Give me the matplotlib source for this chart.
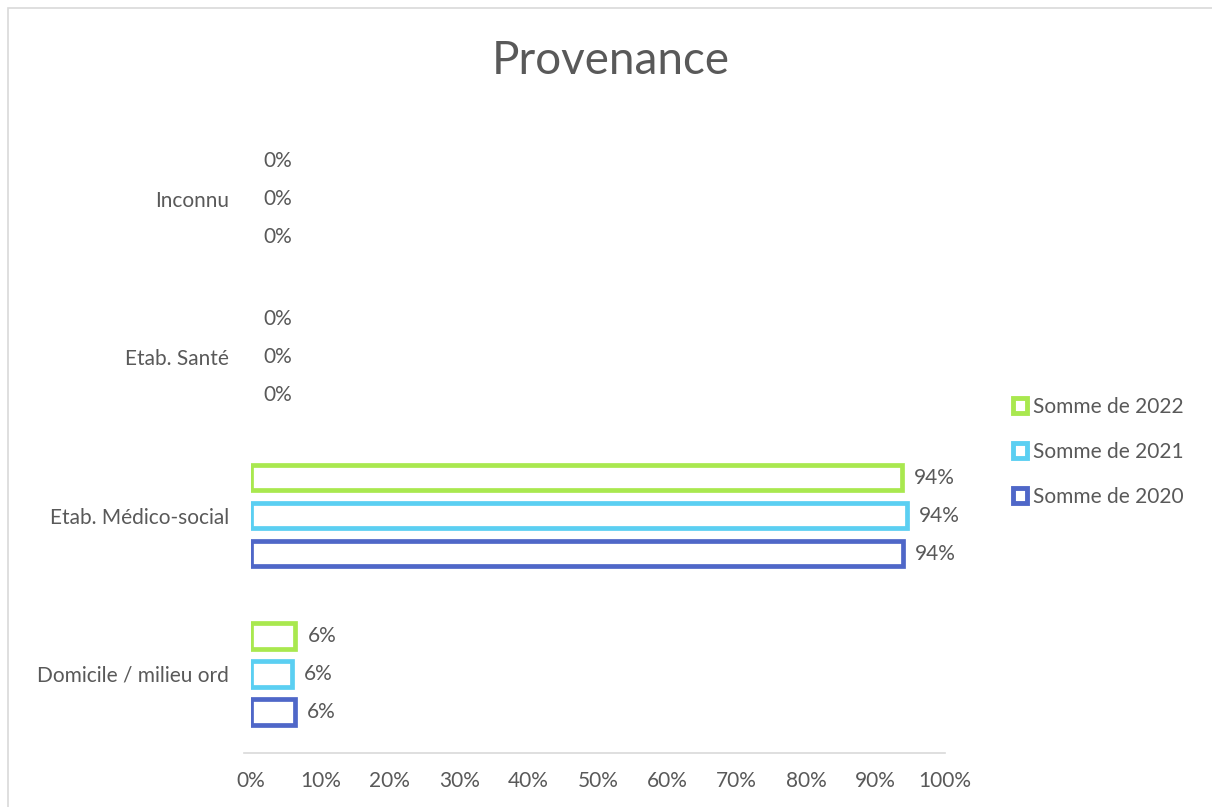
import matplotlib
matplotlib.use("Agg")
import matplotlib.pyplot as plt
import matplotlib.patches as mpatches
import numpy as np

plt.rcParams['font.family'] = ['Lato', 'DejaVu Sans']

categories = ['Domicile / milieu ord', 'Etab. Médico-social', 'Etab. Santé', 'Inconnu']
series_names = ['Somme de 2022', 'Somme de 2021', 'Somme de 2020']
values_2022 = [0.064, 0.938, 0.0, 0.0]
values_2021 = [0.059, 0.945, 0.0, 0.0]
values_2020 = [0.063, 0.939, 0.0, 0.0]
x_ticks = [0, 0.1, 0.2, 0.3, 0.4, 0.5, 0.6, 0.7, 0.8, 0.9, 1.0]

colors = ['#A9E84F', '#5BCFF2', '#4F67C8']
grey = '#595959'
fs = 15

fig = plt.figure(figsize=(12.12, 8.07), dpi=100)
# chart border, only top and left show in the picture
fig.patches.append(mpatches.Rectangle((8 / 1212, -0.1), 1.2, (807 - 8) / 807 + 0.1,
                                      transform=fig.transFigure, fill=False,
                                      edgecolor='#D9D9D9', linewidth=1.2))

ax = fig.add_axes([251 / 1212, 54 / 807, 694 / 1212, 633 / 807])

y = np.arange(len(categories))
offsets = [0.24, 0.0, -0.24]
all_values = [values_2022, values_2021, values_2020]

for vals, off, col, name in zip(all_values, offsets, colors, series_names):
    bars = ax.barh(y + off, vals, height=0.16, facecolor='white', edgecolor=col,
                   linewidth=3.4, label=name)
    for b, v in zip(bars, vals):
        if v == 0:
            b.set_visible(False)  # zero bars would show as a thin outline
        ax.annotate('{:.0%}'.format(v), xy=(v, b.get_y() + b.get_height() / 2),
                    xytext=(12, 0), textcoords='offset pixels',
                    va='center', ha='left', fontsize=fs, color=grey)

ax.set_xlim(0, 1)
ax.set_ylim(-0.5, 3.5)
ax.set_xticks(x_ticks)
ax.set_xticklabels(['{:.0%}'.format(t) for t in x_ticks], fontsize=fs, color=grey)
ax.set_yticks(y)
ax.set_yticklabels(categories, fontsize=fs, color=grey)
ax.tick_params(axis='both', length=0)
ax.tick_params(axis='x', pad=13)
ax.tick_params(axis='y', pad=16)

for s in ['top', 'right', 'left']:
    ax.spines[s].set_visible(False)
ax.spines['bottom'].set_color('#D9D9D9')
ax.spines['bottom'].set_linewidth(1.2)
ax.spines['bottom'].set_bounds(-0.01, 1.0)

fig.text(611 / 1212, 1 - 61 / 807, 'Provenance', ha='center', va='center',
         fontsize=33, color=grey)

handles = [mpatches.Patch(facecolor='white', edgecolor=c, linewidth=3.5) for c in colors]
leg = fig.legend(handles, series_names, loc='center left',
                 bbox_to_anchor=(994 / 1212, 1 - 452 / 807), frameon=False,
                 fontsize=fs, labelcolor=grey, handlelength=0.7, handleheight=0.7,
                 handletextpad=0.25, labelspacing=1.2)

fig.savefig('out.png', dpi=100)
